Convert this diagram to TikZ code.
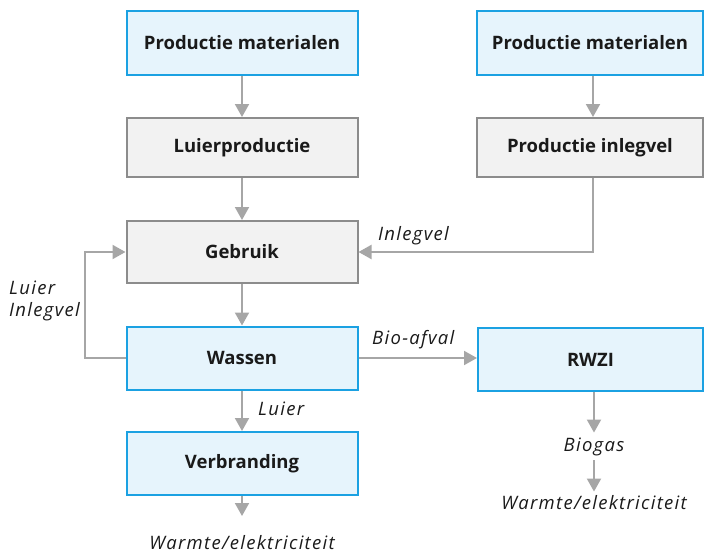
\documentclass[tikz,border=0pt]{standalone}
\usepackage{fontspec}
\setmainfont{Open Sans}
\newfontfamily\lblfont[LetterSpace=7]{Open Sans}
\usetikzlibrary{arrows.meta}
\definecolor{bluefill}{HTML}{E6F4FC}
\definecolor{blueline}{HTML}{1BA1E2}
\definecolor{greyfill}{HTML}{F2F2F2}
\definecolor{greyline}{HTML}{8C8C8C}
\definecolor{arrowc}{HTML}{A6A6A6}
\definecolor{txt}{HTML}{1A1A1A}
\tikzset{
  bluebox/.style={draw=blueline, fill=bluefill, line width=2pt, text=txt, font=\fontsize{18.5}{21}\selectfont\bfseries, inner sep=0pt},
  greybox/.style={draw=greyline, fill=greyfill, line width=2pt, text=txt, font=\fontsize{18.5}{21}\selectfont\bfseries, inner sep=0pt},
  lbl/.style={text=txt, font=\lblfont\fontsize{18.5}{22}\selectfont\itshape, inner sep=0pt, text height=14pt, text depth=4.5pt},
  flow/.style={draw=arrowc, line width=2pt, -{Triangle[width=14pt,length=13pt]}},
}
\begin{document}
\begin{tikzpicture}[x=1pt,y=-1pt]
\useasboundingbox (0,0) rectangle (705,554);
\node[bluebox, minimum width=231pt, minimum height=64pt] (pm1) at (242,43) {Productie materialen};
\node[greybox, minimum width=231pt, minimum height=59pt] (lp) at (242,147.5) {Luierproductie};
\node[greybox, minimum width=231pt, minimum height=62pt] (geb) at (242,252) {Gebruik};
\node[bluebox, minimum width=231pt, minimum height=63pt] (was) at (242,358) {Wassen};
\node[bluebox, minimum width=231pt, minimum height=63pt] (ver) at (242,463.5) {Verbranding};
\node[bluebox, minimum width=226pt, minimum height=64pt] (pm2) at (590,43) {Productie materialen};
\node[greybox, minimum width=226pt, minimum height=59pt] (pi) at (590,147.5) {Productie inlegvel};
\node[bluebox, minimum width=225pt, minimum height=63pt] (rwzi) at (590.5,359.5) {RWZI};

\node[lbl] (bio) at (594,447) {Biogas};
\node[lbl] (w2) at (594,505) {Warmte/elektriciteit};
\node[lbl] (w1) at (242,545) {Warmte/elektriciteit};
\node[lbl, anchor=west, align=left, text height=, text depth=] (li) at (9,301) {Luier\\Inlegvel};
\node[lbl, anchor=west] (inl) at (378,236) {Inlegvel};
\node[lbl, anchor=west] (ba) at (372,340) {Bio-afval};
\node[lbl, anchor=west] (lu) at (258,411) {Luier};
\coordinate (vend) at (242,516);
\coordinate (loopa) at (85,358);
\coordinate (loopb) at (85,252);
\coordinate (inc) at (593,252);

\draw[flow] (pm1) -- (lp);
\draw[flow] (lp) -- (geb);
\draw[flow] (geb) -- (was);
\draw[flow] (was) -- (ver);
\draw[flow] (ver.south) -- (vend);
\draw[flow] ([xshift=3pt]pm2.south) -- ([xshift=3pt]pi.north);
\draw[flow] ([xshift=3pt]pi.south) -- (inc) -- (geb.east);
\draw[flow] (was.west) -- (loopa) -- (loopb) -- (geb.west);
\draw[flow] (was.east) -- (was.east -| rwzi.west);
\draw[flow, shorten >=5pt] (rwzi.south -| bio.north) -- (bio.north);
\draw[flow, shorten <=4pt, shorten >=4pt] (bio.south) -- (w2.north);
\end{tikzpicture}
\end{document}
